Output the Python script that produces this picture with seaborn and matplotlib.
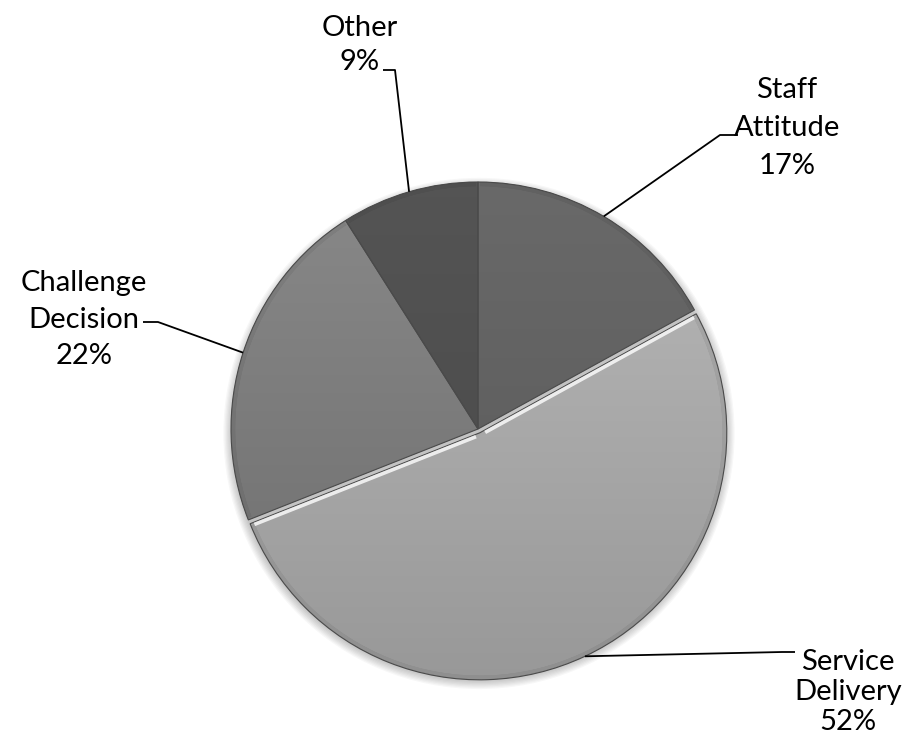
import numpy as np
import matplotlib
matplotlib.use("Agg")
import matplotlib.pyplot as plt
import matplotlib.colors as mcolors
from matplotlib.patches import Wedge, Circle
import seaborn as sns

# Complaint categories, clockwise from 12 o'clock
categories = ["Staff\nAttitude", "Service\nDelivery", "Challenge\nDecision", "Other"]
shares = [17, 52, 22, 9]

# grey shading per slice (top of gradient / bottom of gradient)
top_shades = ["#6a6a6a", "#bababa", "#8a8a8a", "#555555"]
bottom_shades = ["#575757", "#979797", "#6c6c6c", "#474747"]
explode = [0, 0.017, 0, 0]

sns.set_theme(style="white")
plt.rcParams["font.family"] = ["Lato", "DejaVu Sans"]

W, H = 920, 735
fig = plt.figure(figsize=(W / 100, H / 100), dpi=100)
ax = fig.add_axes([0, 0, 1, 1])

# pixel layout of the pie: centre and radius
R = 247.0
CX, CY = 478.0, 429.0


def px(x, y):
    """Convert figure pixel position to data coordinates."""
    return (x - CX) / R, (CY - y) / R


# soft drop shadow beneath the pie
for k in range(8):
    ax.add_patch(Circle((0.004, -0.018), 1.0 + 0.005 * k, facecolor="black",
                        edgecolor="none", alpha=0.03, zorder=0))

wedges, _ = ax.pie(shares, startangle=90, counterclock=False, explode=explode,
                   colors=top_shades, radius=1.0, center=(0, 0),
                   wedgeprops=dict(edgecolor="none", linewidth=0))

# vertical gradient inside each slice
grad = np.linspace(0, 1, 256)[:, None, None]
for w, t, b in zip(wedges, top_shades, bottom_shades):
    ct = np.array(mcolors.to_rgb(t))[None, None, :]
    cb = np.array(mcolors.to_rgb(b))[None, None, :]
    img = ct * (1 - grad) + cb * grad
    im = ax.imshow(img, extent=(-1.1, 1.1, -1.1, 1.1), origin="upper",
                   aspect="auto", interpolation="bilinear", zorder=2)
    im.set_clip_path(w)

# slice outlines, with a light highlight on the straight edges of the big slice
for i, w in enumerate(wedges):
    ax.add_patch(Wedge(w.center, w.r, w.theta1, w.theta2, facecolor="none",
                       edgecolor="#4a4a4a", linewidth=0.8, zorder=3))
    # soft darker rim just inside the arc
    ax.add_patch(Wedge(w.center, w.r * 0.99, w.theta1 + 0.5, w.theta2 - 0.5,
                       width=0.0, facecolor="none", edgecolor="black",
                       linewidth=2.5, alpha=0.06, zorder=3))
big = wedges[1]
bcx, bcy = big.center
for ang in (big.theta1, big.theta2):
    a = np.deg2rad(ang)
    na = a + (np.pi / 2 if ang == big.theta1 else -np.pi / 2)
    off = 0.009
    ax.plot([bcx + off * np.cos(na) + 0.02 * np.cos(a), bcx + off * np.cos(na) + 0.985 * np.cos(a)],
            [bcy + off * np.sin(na) + 0.02 * np.sin(a), bcy + off * np.sin(na) + 0.985 * np.sin(a)],
            color="white", linewidth=2.6, alpha=0.8, solid_capstyle="butt", zorder=3)

# label layout: text centre, elbow and end of leader line (pixels)
label_pos = [(787, 128), (848, 692), (84, 320), (360, 45)]
elbows = [(720, 135), (782, 652), (158, 322), (395, 70)]
ends = [(738, 135), (795, 652), (143, 322), (383, 70)]
spacings = [1.55, 1.2, 1.5, 1.38]

for w, name, val, lp, el, en, ls in zip(wedges, categories, shares,
                                        label_pos, elbows, ends, spacings):
    mid = np.deg2rad((w.theta1 + w.theta2) / 2)
    sx = w.center[0] + np.cos(mid)
    sy = w.center[1] + np.sin(mid)
    ex, ey = px(*el)
    nx, ny = px(*en)
    ax.plot([sx, ex, nx], [sy, ey, ny], color="black", linewidth=1.3,
            solid_capstyle="butt", zorder=4)
    tx, ty = px(*lp)
    ax.text(tx, ty, f"{name}\n{val}%", ha="center", va="center",
            fontsize=21, color="black", linespacing=ls, zorder=5)

ax.set_xlim(-CX / R, (W - CX) / R)
ax.set_ylim(-(H - CY) / R, CY / R)
ax.set_aspect("equal")
ax.axis("off")

fig.savefig("out.png", dpi=100, facecolor="white")
